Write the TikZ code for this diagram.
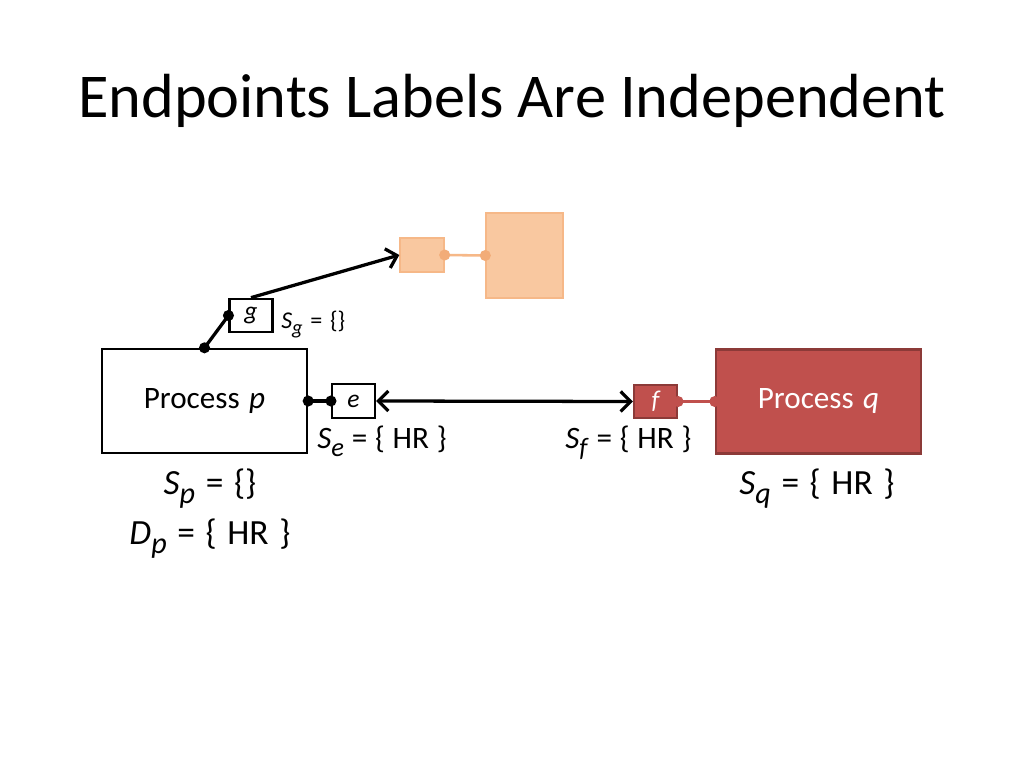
\documentclass[tikz,border=0pt]{standalone}
\usepackage{fontspec}
\setmainfont{Carlito}
\usepackage{graphicx}
\usetikzlibrary{arrows.meta}
\definecolor{qred}{HTML}{C0504D}
\definecolor{qredline}{HTML}{8C3A38}
\definecolor{ghost}{HTML}{F9C8A0}
\definecolor{ghostline}{HTML}{F6B888}
\definecolor{ghostdot}{HTML}{F2AC78}
\newcommand\lbl[2]{\textit{#1}\raisebox{-0.28em}{\scalebox{0.85}{\textit{#2}}}}
\newcommand\fs[2]{\fontsize{#1}{#1}\selectfont\spaceskip=#2\relax}
\tikzset{
  proc/.style={draw,line width=1.8bp,minimum width=144bp,minimum height=73bp,font=\fs{22}{0.3em}},
  endpt/.style={draw,line width=1.5bp,minimum width=30.2bp,minimum height=23.6bp,inner sep=0pt,font=\fs{18}{0.3em}\itshape},
  ghostbox/.style={draw=ghostline,fill=ghost,line width=1bp,inner sep=0pt},
  link/.style={line width=2.3bp,>={Straight Barb[length=7bp,width=14bp]}},
  lab/.style={inner sep=0pt,anchor=base}
}
\begin{document}
\begin{tikzpicture}[x=0.703125bp,y=-0.703125bp]
\path[use as bounding box,fill=white](0,0)rectangle(1024,768);
\node[lab,font=\fs{44}{0.226em}](title)at(512,118){Endpoints Labels Are Independent};
% processes
\node[proc](procP)at(204.5,401){Process \textit{p}};
\node[proc,fill=qred,draw=qredline,text=white](procQ)at(818.5,401.5){Process \textit{q}};
% endpoints
\node[endpt](boxG)at(251,315.5){g};
\node[endpt](boxE)at(353.5,401){e};
\node[endpt,fill=qred,draw=qredline,text=white](boxF)at(655.5,401.5){f};
% faded copy
\node[ghostbox,minimum width=30.9bp,minimum height=23.9bp](orgS)at(422,255){};
\node[ghostbox,minimum width=54.1bp,minimum height=59.8bp](orgB)at(524.5,255.5){};
% connectors
\draw[link](procP.north)--(boxG.west);
\draw[link](procP.east)--(boxE.west);
\draw[link,->](boxG.north)--(orgS.west);
\draw[link,<->](boxE.east)--(boxF.west);
\draw[line width=1.8bp,qred](boxF.east)--(procQ.west);
\draw[line width=1.8bp,ghostline](orgS.east)--(orgB.west);
\fill(procP.north)circle(3.9bp)(boxG.west)circle(3.9bp)(procP.east)circle(3.9bp)(boxE.west)circle(3.9bp);
\fill[qred](boxF.east)circle(3.9bp)(procQ.west)circle(3.9bp);
\fill[ghostdot](orgS.east)circle(3.9bp)(orgB.west)circle(3.9bp);
% labels
\node[lab,anchor=base west,font=\fs{17}{0.32em}](labG)at(281,328){\lbl{S}{g} = \{\}};
\node[lab,anchor=base west,font=\fs{22}{0.25em}](labE)at(317,448){\lbl{S}{e} = \{ HR \}};
\node[lab,anchor=base west,font=\fs{22}{0.25em}](labF)at(565,448){\lbl{S}{f} = \{ HR \}};
\node[lab,font=\fs{25}{0.3em}](labSp)at(210,494){\lbl{S}{p} = \{\}};
\node[lab,font=\fs{25}{0.3em}](labDp)at(210,544){\lbl{D}{p} = \{ HR \}};
\node[lab,font=\fs{25}{0.3em}](labSq)at(817,494){\lbl{S}{q} = \{ HR \}};
\end{tikzpicture}
\end{document}
